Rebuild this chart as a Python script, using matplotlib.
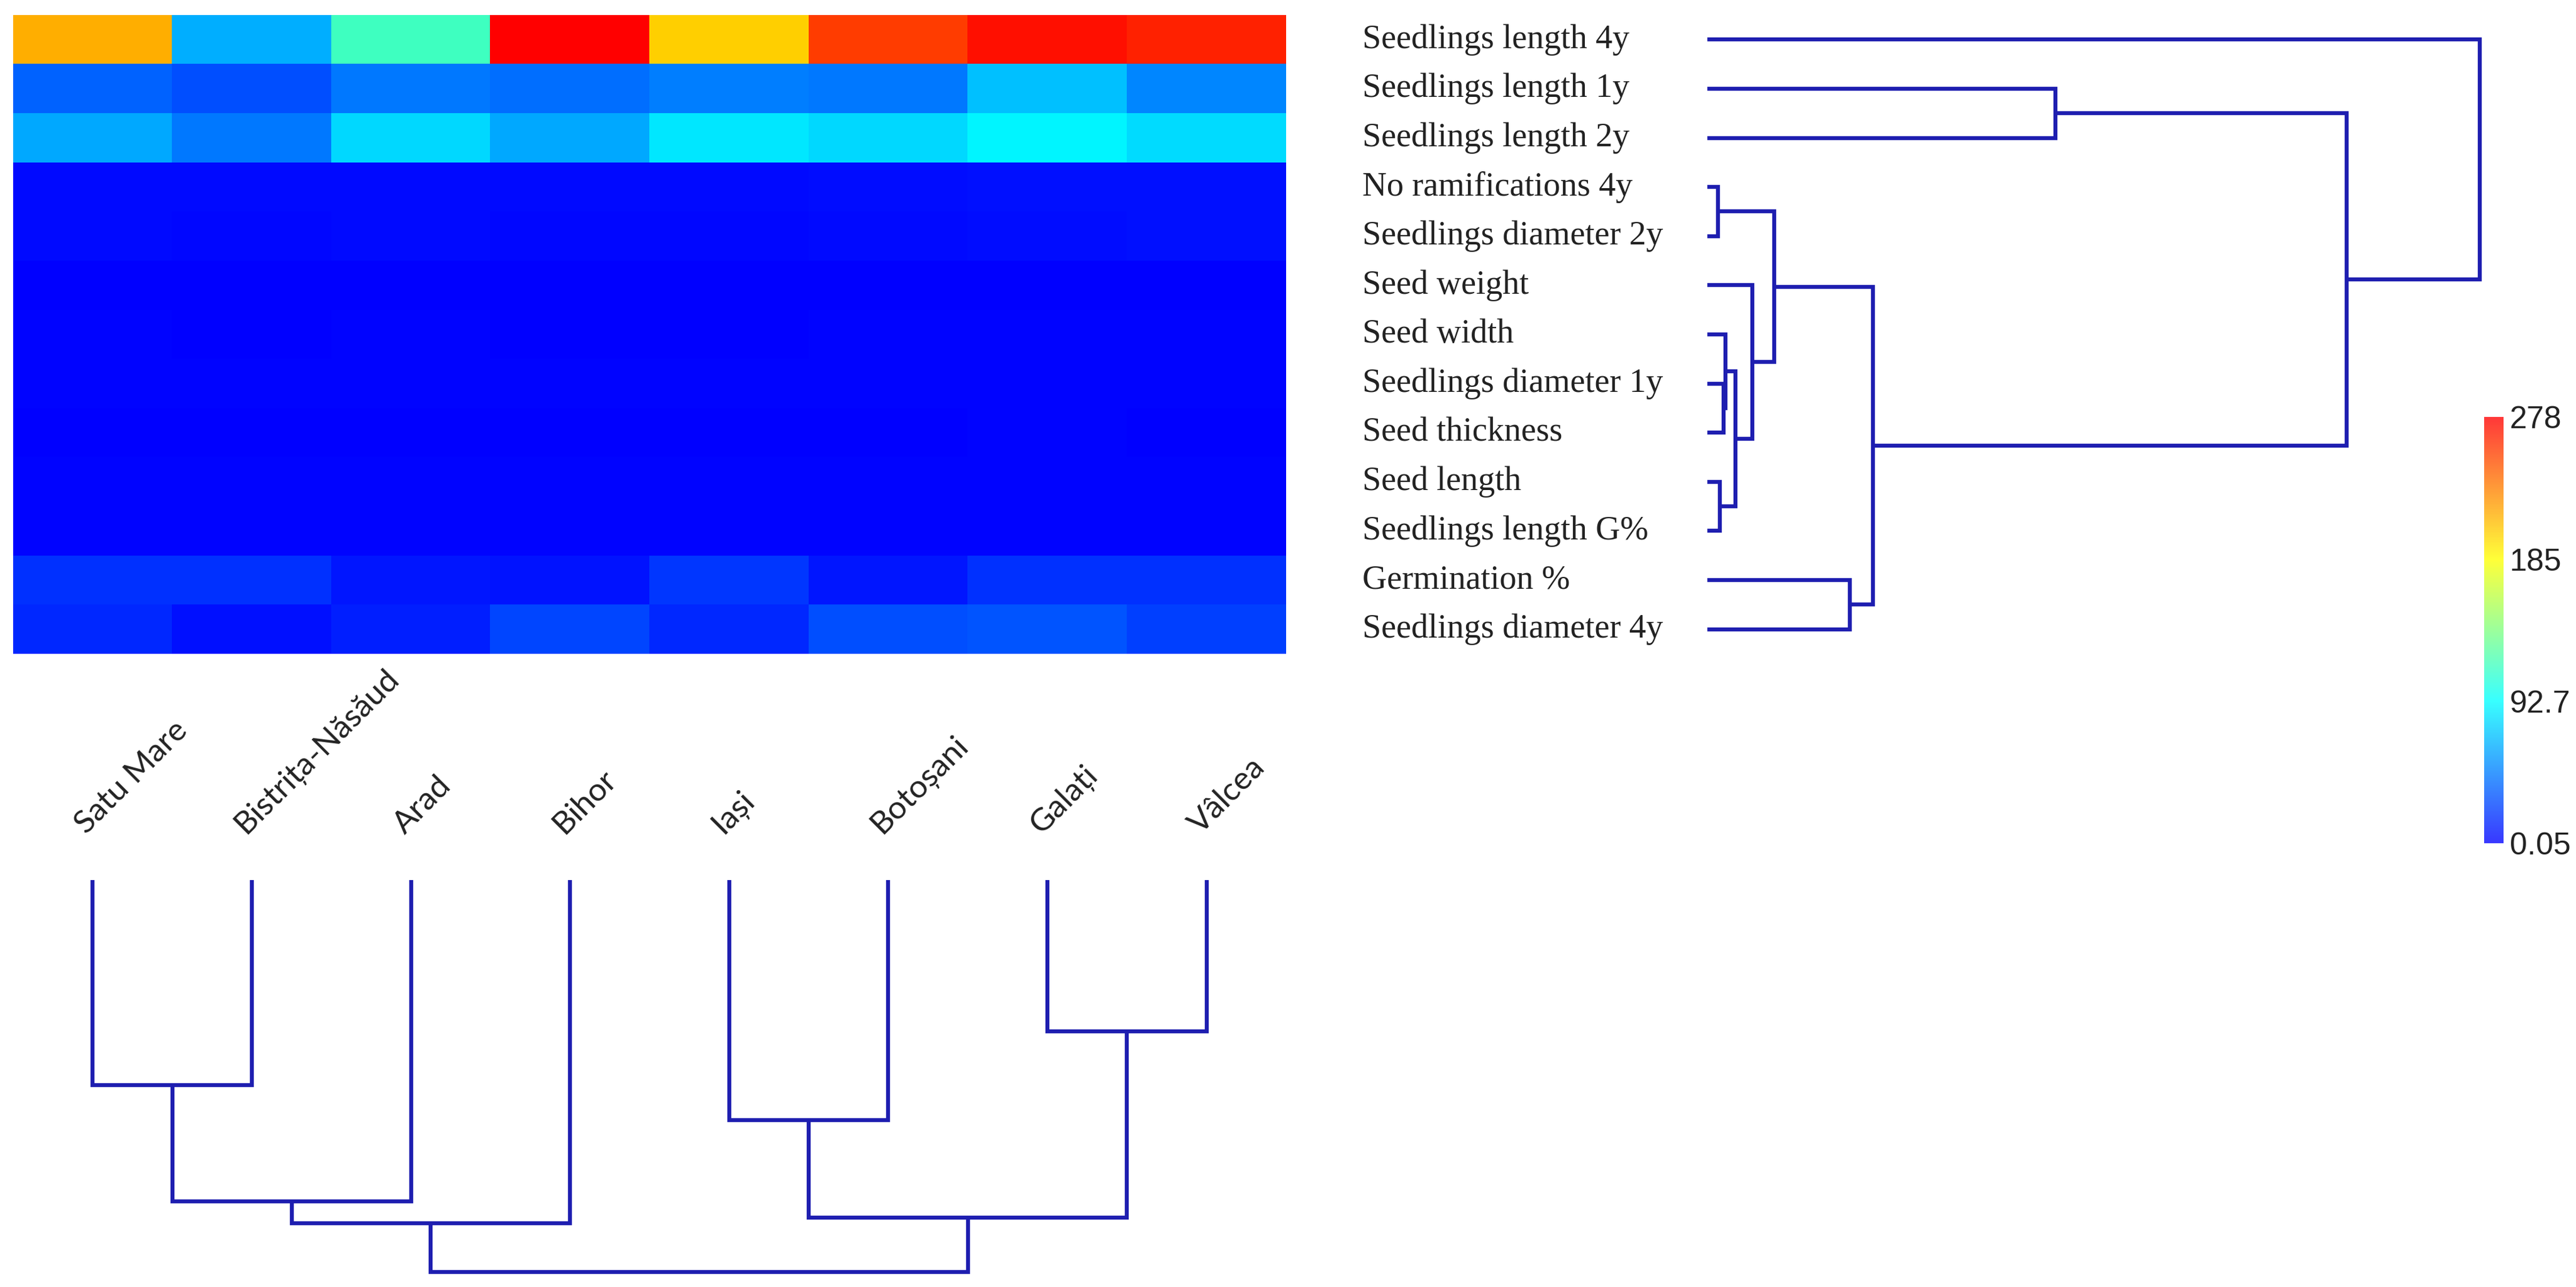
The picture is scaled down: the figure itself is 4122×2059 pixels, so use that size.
import numpy as np
import matplotlib
matplotlib.use("Agg")
import matplotlib.pyplot as plt
from matplotlib.colors import LinearSegmentedColormap
import matplotlib.transforms as mtransforms

# ---------------- data ----------------
counties = ["Satu Mare", "Bistrița-Năsăud", "Arad", "Bihor", "Iași", "Botoșani", "Galați", "Vâlcea"]
traits = ["Seedlings length 4y", "Seedlings length 1y", "Seedlings length 2y",
          "No ramifications 4y", "Seedlings diameter 2y", "Seed weight", "Seed width",
          "Seedlings diameter 1y", "Seed thickness", "Seed length", "Seedlings length G%",
          "Germination %", "Seedlings diameter 4y"]

seedlings_length_4y = [214, 64, 116, 278, 202, 256, 272, 266]
seedlings_length_1y = [36, 29, 44, 41, 46, 44, 70, 49]
seedlings_length_2y = [61, 44, 79, 61, 84, 79, 90, 80]
no_ramifications_4y = [4.0, 3.5, 4.0, 3.5, 3.5, 4.5, 6.0, 6.5]
seedlings_diameter_2y = [3.5, 3.0, 3.5, 3.0, 3.0, 4.0, 5.0, 5.5]
seed_weight = [0.3, 0.25, 0.3, 0.2, 0.25, 0.3, 0.35, 0.3]
seed_width = [1.2, 1.1, 1.3, 1.0, 1.1, 1.2, 1.4, 1.3]
seedlings_diameter_1y = [1.5, 1.4, 1.6, 1.3, 1.4, 1.5, 1.8, 1.7]
seed_thickness = [1.0, 0.9, 1.1, 0.8, 0.9, 1.0, 1.2, 1.1]
seed_length = [1.6, 1.5, 1.7, 1.4, 1.5, 1.7, 1.9, 1.8]
seedlings_length_g = [1.8, 1.7, 1.6, 1.5, 1.9, 1.6, 2.0, 1.9]
germination = [17.5, 18.5, 8.7, 7.3, 20.3, 8.7, 17.5, 17.5]
seedlings_diameter_4y = [14.5, 5.8, 11.6, 26.0, 14.5, 29.0, 30.5, 23.0]

vmin, vmax = 0.05, 278
cbar_ticks = [278, 185, 92.7, 0.05]
cbar_labels = ["278", "185", "92.7", "0.05"]

# hierarchical clustering of traits: (child a, child b, merge distance)
row_merges = [(3, 4, 17), (7, 8, 26), (6, 14, 29), (9, 10, 20), (15, 16, 45),
              (5, 17, 72), (13, 18, 107), (11, 12, 228), (19, 20, 265),
              (1, 2, 557), (22, 21, 1023), (0, 23, 1236)]
# hierarchical clustering of counties
col_merges = [(0, 1, 328), (8, 2, 514), (9, 3, 549), (4, 5, 384), (6, 7, 242),
              (11, 12, 540), (10, 13, 627)]

data = np.array([seedlings_length_4y, seedlings_length_1y, seedlings_length_2y,
                 no_ramifications_4y, seedlings_diameter_2y, seed_weight, seed_width,
                 seedlings_diameter_1y, seed_thickness, seed_length, seedlings_length_g,
                 germination, seedlings_diameter_4y])

# ---------------- style ----------------
W, H = 4122, 2059
fig = plt.figure(figsize=(W / 100, H / 100), dpi=100)
line_color = "#1E1EB0"
lw = 4.6

base_colors = [(0, 0, 1), (0, 1, 1), (1, 1, 0), (1, 0, 0)]
cmap = LinearSegmentedColormap.from_list("bcyr", base_colors)
faded = [tuple(0.78 * np.array(c) + 0.22) for c in base_colors]
cmap_bar = LinearSegmentedColormap.from_list("bcyr_faded", faded)


def fr(x0, y0, x1, y1):
    return [x0 / W, 1 - y1 / H, (x1 - x0) / W, (y1 - y0) / H]


# heatmap
ax = fig.add_axes(fr(21, 24, 2058, 1046))
ax.imshow(data, cmap=cmap, vmin=vmin, vmax=vmax, aspect="auto", interpolation="nearest")
ax.set_xlim(-0.5, len(counties) - 0.5)
ax.set_ylim(len(traits) - 0.5, -0.5)
ax.axis("off")


def build(merges, n):
    pos = {i: float(i) for i in range(n)}
    hgt = {i: 0.0 for i in range(n)}
    segs = []
    for k, (a, b, h) in enumerate(merges):
        node = n + k
        segs.append(((pos[a], hgt[a]), (pos[a], h), (pos[b], h), (pos[b], hgt[b])))
        pos[node] = (pos[a] + pos[b]) / 2
        hgt[node] = h
    return segs


# row dendrogram (right)
axr = fig.add_axes(fr(2732, 24, 3968, 1046))
for seg in build(row_merges, len(traits)):
    xs = [s[1] for s in seg]
    ys = [s[0] for s in seg]
    axr.plot(xs, ys, color=line_color, lw=lw, solid_joinstyle="miter",
             solid_capstyle="butt", clip_on=False)
axr.set_xlim(0, 1236)
axr.set_ylim(len(traits) - 0.5, -0.5)
axr.axis("off")

# row labels
tr_rows = mtransforms.blended_transform_factory(fig.transFigure, ax.transData)
for i, t in enumerate(traits):
    fig.text(2180 / W, i, t, transform=tr_rows, ha="left", va="center",
             fontsize=39, family=["Liberation Serif", "DejaVu Serif"], color="#222222")

# column dendrogram (bottom)
axc = fig.add_axes(fr(21, 1408, 2058, 2035))
for seg in build(col_merges, len(counties)):
    xs = [s[0] for s in seg]
    ys = [s[1] for s in seg]
    axc.plot(xs, ys, color=line_color, lw=lw, solid_joinstyle="miter",
             solid_capstyle="butt", clip_on=False)
axc.set_xlim(-0.5, len(counties) - 0.5)
axc.set_ylim(627, 0)
axc.axis("off")

# column labels
tr_cols = mtransforms.blended_transform_factory(ax.transData, fig.transFigure)
for i, c in enumerate(counties):
    fig.text(i - 0.04, 1 - 1336 / H, c, transform=tr_cols, rotation=45,
             rotation_mode="anchor", ha="left", va="baseline", fontsize=37,
             family=["Lato", "DejaVu Sans"], color="#222222")

# colorbar
cax = fig.add_axes(fr(3975, 667, 4006, 1349))
sm = matplotlib.cm.ScalarMappable(norm=matplotlib.colors.Normalize(vmin, vmax), cmap=cmap_bar)
cb = fig.colorbar(sm, cax=cax)
cb.outline.set_visible(False)
cb.set_ticks(cbar_ticks)
cb.set_ticklabels(cbar_labels)
cax.tick_params(length=0, pad=7, labelsize=36)
for lab in cax.get_yticklabels():
    lab.set_family(["Liberation Sans", "DejaVu Sans"])
    lab.set_color("#222222")

fig.savefig("out.png", dpi=100, facecolor="white")
